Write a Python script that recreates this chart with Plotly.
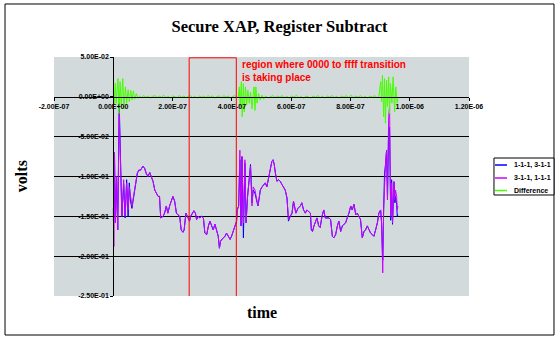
import plotly.graph_objects as go

# ---------------- data ----------------
x_tick_vals = [-2e-7, 0, 2e-7, 4e-7, 6e-7, 8e-7, 1e-6, 1.2e-6]
x_tick_text = ["-2.00E-07", "0.00E+00", "2.00E-07", "4.00E-07", "6.00E-07",
               "8.00E-07", "1.00E-06", "1.20E-06"]
y_tick_vals = [0.05, 0.0, -0.05, -0.10, -0.15, -0.20, -0.25]
y_tick_text = ["5.00E-02", "0.00E+00", "-5.00E-02", "-1.00E-01", "-1.50E-01",
               "-2.00E-01", "-2.50E-01"]
y_grid_vals = [-0.05, -0.10, -0.15, -0.20]

series_names = ["1-1-1, 3-1-1", "3-1-1, 1-1-1", "Difference"]
series_colors = ["#0000FF", "#CC00FF", "#44FF00"]

# time in nanoseconds
time_ns = [
    0, 2, 4, 7, 11, 15, 20, 29, 35, 40,
    45, 50, 54, 58, 63, 70, 74, 81, 86, 92,
    100, 106, 111, 117, 123, 128, 134, 140, 145, 151,
    156, 160, 168, 173, 179, 184, 190, 196, 201, 207,
    213, 218, 224, 229, 235, 239, 245, 250, 257, 261,
    268, 272, 277, 281, 287, 292, 298, 304, 309, 315,
    321, 326, 332, 337, 343, 349, 354, 358, 362, 369,
    377, 382, 388, 394, 399, 405, 411, 416, 418, 423,
    427, 431, 434, 439, 444, 448, 453, 459, 463, 468,
    472, 478, 485, 488, 493, 496, 502, 507, 513, 518,
    524, 530, 535, 539, 543, 547, 552, 558, 563, 569,
    575, 580, 586, 591, 597, 603, 608, 612, 616, 623,
    631, 636, 642, 648, 653, 659, 665, 668, 672, 677,
    681, 687, 693, 698, 704, 710, 715, 721, 728, 733,
    739, 744, 750, 756, 761, 767, 773, 778, 784, 789,
    795, 801, 806, 812, 818, 823, 829, 834, 840, 846,
    851, 857, 863, 868, 874, 879, 885, 891, 896, 902,
    905, 909, 912, 915, 919, 922, 925, 929, 932, 936,
    939, 942, 947, 950, 952, 956, 958, 960,
]

v_311_111 = [  # purple
    -0.140, -0.188, -0.070, -0.158, -0.100, -0.167, -0.020, -0.150, -0.104, -0.150,
    -0.108, -0.142, -0.113, -0.125, -0.137, -0.121, -0.113, -0.096, -0.092, -0.092,
    -0.087, -0.090, -0.096, -0.100, -0.095, -0.100, -0.106, -0.117, -0.121, -0.125,
    -0.125, -0.152, -0.150, -0.146, -0.137, -0.146, -0.137, -0.129, -0.125, -0.131,
    -0.146, -0.148, -0.150, -0.167, -0.170, -0.167, -0.146, -0.150, -0.156, -0.150,
    -0.146, -0.143, -0.146, -0.154, -0.150, -0.152, -0.150, -0.152, -0.171, -0.173,
    -0.162, -0.156, -0.162, -0.167, -0.160, -0.169, -0.175, -0.190, -0.181, -0.178,
    -0.175, -0.171, -0.175, -0.179, -0.175, -0.169, -0.162, -0.156, -0.142, -0.137,
    -0.067, -0.162, -0.075, -0.158, -0.079, -0.158, -0.125, -0.100, -0.087, -0.137,
    -0.113, -0.117, -0.129, -0.137, -0.125, -0.117, -0.113, -0.110, -0.108, -0.113,
    -0.100, -0.087, -0.081, -0.079, -0.085, -0.096, -0.106, -0.104, -0.106, -0.110,
    -0.113, -0.117, -0.127, -0.154, -0.150, -0.146, -0.131, -0.137, -0.146, -0.140,
    -0.137, -0.133, -0.142, -0.146, -0.142, -0.144, -0.146, -0.165, -0.169, -0.162,
    -0.158, -0.152, -0.162, -0.164, -0.150, -0.142, -0.152, -0.152, -0.152, -0.154,
    -0.175, -0.177, -0.173, -0.162, -0.156, -0.169, -0.162, -0.160, -0.158, -0.152,
    -0.146, -0.137, -0.142, -0.135, -0.148, -0.146, -0.150, -0.154, -0.177, -0.169,
    -0.167, -0.162, -0.167, -0.171, -0.173, -0.175, -0.167, -0.158, -0.146, -0.142,
    -0.158, -0.221, -0.142, -0.100, -0.079, -0.067, -0.129, -0.025, -0.012, -0.150,
    -0.108, -0.158, -0.106, -0.129, -0.117, -0.125, -0.142, -0.137,
]

v_111_311 = [  # blue
    -0.155, -0.150, -0.070, -0.158, -0.100, -0.167, -0.008, -0.150, -0.110, -0.152,
    -0.104, -0.150, -0.108, -0.131, -0.140, -0.121, -0.113, -0.096, -0.092, -0.092,
    -0.087, -0.090, -0.096, -0.100, -0.095, -0.100, -0.106, -0.117, -0.121, -0.125,
    -0.125, -0.152, -0.150, -0.146, -0.137, -0.146, -0.137, -0.129, -0.125, -0.131,
    -0.146, -0.148, -0.150, -0.167, -0.170, -0.167, -0.146, -0.150, -0.156, -0.150,
    -0.146, -0.143, -0.146, -0.154, -0.150, -0.152, -0.150, -0.152, -0.171, -0.173,
    -0.162, -0.156, -0.162, -0.167, -0.160, -0.169, -0.175, -0.190, -0.181, -0.178,
    -0.175, -0.171, -0.175, -0.179, -0.175, -0.169, -0.162, -0.156, -0.142, -0.137,
    -0.079, -0.162, -0.075, -0.177, -0.083, -0.158, -0.125, -0.104, -0.085, -0.133,
    -0.117, -0.121, -0.131, -0.137, -0.125, -0.117, -0.113, -0.110, -0.108, -0.113,
    -0.100, -0.087, -0.081, -0.079, -0.085, -0.096, -0.106, -0.104, -0.106, -0.110,
    -0.113, -0.117, -0.127, -0.156, -0.150, -0.146, -0.131, -0.137, -0.146, -0.140,
    -0.137, -0.133, -0.142, -0.146, -0.142, -0.144, -0.146, -0.167, -0.169, -0.162,
    -0.158, -0.152, -0.162, -0.164, -0.150, -0.142, -0.152, -0.152, -0.152, -0.154,
    -0.175, -0.177, -0.173, -0.162, -0.156, -0.169, -0.162, -0.160, -0.158, -0.152,
    -0.146, -0.137, -0.142, -0.135, -0.148, -0.146, -0.150, -0.154, -0.177, -0.169,
    -0.167, -0.162, -0.167, -0.171, -0.173, -0.175, -0.167, -0.158, -0.146, -0.142,
    -0.158, -0.205, -0.142, -0.096, -0.083, -0.067, -0.129, -0.040, -0.038, -0.155,
    -0.104, -0.160, -0.107, -0.133, -0.125, -0.135, -0.150, -0.148,
]

diff_time_ns = [
    0, 1, 3, 7, 10, 16, 19, 23, 27, 32, 36, 41, 45, 50, 54, 59, 63, 68, 72, 78, 83,
    88, 95, 102, 110, 118, 125, 132, 140, 148, 155, 163, 170, 178, 185, 193, 200,
    208, 215, 223, 230, 238, 245, 253, 260, 268, 275, 283, 290, 298, 305, 313, 320,
    328, 335, 343, 350, 358, 365, 373, 380, 388, 395, 403, 410, 417,
    422, 425, 428, 432, 435, 439, 442, 446, 450, 454, 459, 463, 468, 472, 475, 478,
    481, 485, 490, 496, 502, 507,
    514, 522, 530, 538, 546, 554, 562, 570, 578, 586, 594, 602, 610, 618, 626, 634,
    642, 650, 658, 666, 674, 682, 690, 698, 706, 714, 722, 730, 738, 746, 754, 762,
    770, 778, 786, 794, 802, 810, 818, 826, 834, 842, 850, 858, 866, 874, 882, 890,
    896, 902, 905, 908, 912, 915, 918, 922, 925, 929, 932, 935, 940, 944, 949, 953,
    958, 960,
]
v_difference = [
    0.004, 0.019, -0.010, 0.017, -0.008, 0.023, -0.021, 0.019, -0.010, 0.023, -0.015,
    0.0125, -0.008, 0.009, -0.006, 0.008, -0.004, 0.0075, -0.003, 0.004, -0.002,
    0.001, -0.001, 0.0015, -0.0005, 0.001, -0.0015, 0.0005, 0.0015, -0.001, 0.001,
    -0.0005, 0.002, -0.001, 0.0005, -0.0015, 0.001, 0.0, -0.001, 0.0015, -0.0005,
    0.001, -0.001, 0.0005, 0.0015, -0.001, 0.0005, -0.0015, 0.001, -0.0005, 0.001,
    -0.001, 0.0015, -0.0005, 0.001, -0.0015, 0.0005, 0.001, -0.001, 0.0015, -0.0005,
    0.001, -0.0015, 0.0005, 0.0015, -0.001,
    0.0, 0.0125, -0.0125, 0.019, -0.025, 0.0167, -0.019, 0.0125, -0.0104, 0.0083,
    -0.008, 0.006, -0.015, 0.003, 0.0125, -0.017, 0.0125, -0.008, 0.004, -0.004,
    0.002, -0.003,
    0.001, -0.0015, 0.0005, 0.0015, -0.001, 0.001, -0.0005, 0.0015, -0.001, 0.0005,
    -0.0015, 0.001, -0.0005, 0.002, -0.001, 0.0005, -0.002, 0.001, 0.0, -0.0015,
    0.001, -0.0005, 0.0015, -0.001, 0.0005, -0.0015, 0.001, -0.0005, 0.0015, -0.001,
    0.0005, -0.0015, 0.001, -0.0005, 0.0015, -0.001, 0.002, -0.0015, 0.001, -0.0005,
    0.0015, -0.001, 0.0005, -0.0015, 0.001, -0.0005, 0.0015, -0.001,
    0.0, 0.019, -0.006, 0.027, -0.025, 0.023, -0.033, 0.021, -0.0125, 0.025, -0.021,
    0.0167, -0.008, 0.025, -0.019, 0.0125, -0.008, -0.002,
]

region_start = 2.56e-7
region_end = 4.15e-7

t_sec = [t * 1e-9 for t in time_ns]
td_sec = [t * 1e-9 for t in diff_time_ns]

# ---------------- figure ----------------
fig = go.Figure()
fig.add_trace(go.Scatter(x=t_sec, y=v_111_311, mode="lines", name=series_names[0],
                         line=dict(color=series_colors[0], width=1)))
fig.add_trace(go.Scatter(x=t_sec, y=v_311_111, mode="lines", name=series_names[1],
                         line=dict(color=series_colors[1], width=1)))
fig.add_trace(go.Scatter(x=td_sec, y=v_difference, mode="lines", name=series_names[2],
                         line=dict(color=series_colors[2], width=1)))

tick_font = dict(family="Liberation Sans, Arial", size=7, color="black", weight="bold")

fig.update_layout(
    width=559, height=339, autosize=False,
    margin=dict(l=54, r=90, t=57, b=43),
    paper_bgcolor="white", plot_bgcolor="#D3DADB",
    showlegend=False,
    title=dict(text="Secure XAP, Register Subtract", x=0.5, xref="container",
               xanchor="center", y=0.922, yref="container", yanchor="middle",
               font=dict(family="Liberation Serif, Times New Roman", size=16.5,
                         color="black", weight="bold")),
    xaxis=dict(range=[-2e-7, 1.2e-6], tickmode="array", tickvals=x_tick_vals,
               ticktext=x_tick_text, anchor="free", position=5 / 6,
               showline=True, linecolor="black", linewidth=1,
               ticks="outside", ticklen=3, tickcolor="black",
               showgrid=False, zeroline=False, tickfont=tick_font),
    yaxis=dict(range=[-0.25, 0.05], tickmode="array", tickvals=y_tick_vals,
               ticktext=y_tick_text, anchor="free", position=1 / 7,
               showline=True, linecolor="black", linewidth=1,
               ticks="outside", ticklen=3, tickcolor="black",
               showgrid=False, zeroline=False, tickfont=tick_font,
               minor=dict(tickmode="array", tickvals=y_grid_vals, showgrid=True,
                          gridcolor="black", gridwidth=1, ticks="")),
)

# region box
fig.add_shape(type="rect", xref="x", yref="y", x0=region_start, x1=region_end,
              y0=-0.2515, y1=0.049, line=dict(color="#FF0000", width=1),
              fillcolor="rgba(0,0,0,0)", layer="above")

# outer chart border
fig.add_shape(type="rect", xref="paper", yref="paper", x0=-0.118, x1=1.2048,
              y0=-0.1632, y1=1.2218, line=dict(color="black", width=1),
              fillcolor="rgba(0,0,0,0)")

# legend (compact, drawn in paper coordinates)
fig.add_shape(type="rect", xref="paper", yref="paper", x0=1.0602, x1=1.2048,
              y0=0.4226, y1=0.5774, line=dict(color="black", width=1),
              fillcolor="white")
legend_rows_y = [0.5481, 0.4937, 0.4414]
for name, color, ly in zip(series_names, series_colors, legend_rows_y):
    fig.add_shape(type="line", xref="paper", yref="paper", x0=1.0627, x1=1.0916,
                  y0=ly, y1=ly, line=dict(color=color, width=1.5))
    fig.add_annotation(x=1.1036, y=ly, xref="paper", yref="paper", text=name,
                       showarrow=False, xanchor="left", yanchor="middle",
                       font=dict(family="Liberation Sans, Arial", size=7,
                                 color="black", weight="bold"))

# annotations
fig.add_annotation(x=0.4482, y=0.998, xref="paper", yref="paper", xanchor="left",
                   yanchor="top", align="left", showarrow=False,
                   text="region where 0000 to ffff transition<br>is taking place",
                   font=dict(family="Liberation Sans, Arial", size=10, color="#FF0000",
                             weight="bold"))
fig.add_annotation(x=-0.078, y=0.5, xref="paper", yref="paper", text="volts",
                   textangle=-90, showarrow=False, xanchor="center", yanchor="middle",
                   font=dict(family="Liberation Serif, Times New Roman", size=16,
                             color="black", weight="bold"))
fig.add_annotation(x=0.5, y=-0.071, xref="paper", yref="paper", text="time",
                   showarrow=False, xanchor="center", yanchor="middle",
                   font=dict(family="Liberation Serif, Times New Roman", size=16,
                             color="black", weight="bold"))

assert len(time_ns) == len(v_311_111) == len(v_111_311)
assert len(diff_time_ns) == len(v_difference)

fig.write_html("out.html")
